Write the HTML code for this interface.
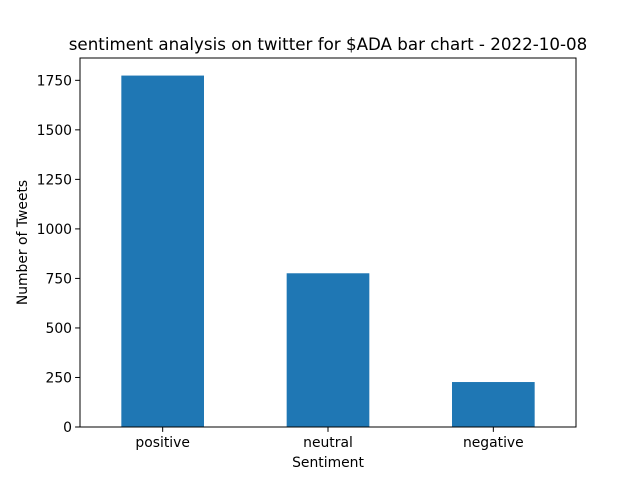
<!DOCTYPE html>
<html><head><meta charset="utf-8"><style>
body{margin:0;background:#fff;}
svg text{font-family:"DejaVu Sans","Liberation Sans",sans-serif;fill:#000;}
</style></head><body>
<svg id="chart" width="640" height="480" viewBox="0 0 640 480" xmlns="http://www.w3.org/2000/svg">
<rect width="640" height="480" fill="#fff"/>
<text x="328" y="50" font-size="16.7" text-anchor="middle">sentiment analysis on twitter for $ADA bar chart - 2022-10-08</text>
<g id="bars"></g>
<g id="yaxis"></g>
<g id="xaxis"></g>
<rect x="80" y="58" width="496" height="369" fill="none" stroke="#000" stroke-width="1"/>
<text x="328" y="467" font-size="13.9" text-anchor="middle">Sentiment</text>
<text transform="translate(27,242.5) rotate(-90)" font-size="13.9" text-anchor="middle">Number of Tweets</text>
</svg>
<script>
const categories=["positive","neutral","negative"];
const counts=[1774,776,227];
const yTicks=[0,250,500,750,1000,1250,1500,1750];
const NS="http://www.w3.org/2000/svg";
const L=80,R=576,T=58,B=427;
const yMax=Math.max(...counts)*1.05;
const y=v=>B-(v/yMax)*(B-T);
const x=i=>L+(i+0.5)/categories.length*(R-L);
const unit=(R-L)/categories.length;
function mk(tag,attrs,parent){const e=document.createElementNS(NS,tag);for(const k in attrs)e.setAttribute(k,attrs[k]);parent.appendChild(e);return e;}
const bars=document.getElementById('bars'),ya=document.getElementById('yaxis'),xa=document.getElementById('xaxis');
counts.forEach((v,i)=>{
 const r=mk('rect',{x:x(i)-unit*0.25,y:y(v),width:unit*0.5,height:B-y(v),fill:'#1f77b4'},bars);
 
 
});
yTicks.forEach(t=>{
 const g=mk('g',{},ya);
 
 
 mk('line',{x1:L-4.9,x2:L,y1:y(t),y2:y(t),stroke:'#000','stroke-width':1},g);
 const tx=mk('text',{x:L-8,y:y(t)+5,'font-size':13.9,'text-anchor':'end'},g);tx.textContent=t;
});
categories.forEach((c,i)=>{
 const g=mk('g',{},xa);
 
 
 mk('line',{x1:x(i),x2:x(i),y1:B,y2:B+4.9,stroke:'#000','stroke-width':1},g);
 const tx=mk('text',{x:x(i),y:B+20,'font-size':13.9,'text-anchor':'middle'},g);tx.textContent=c;
});
</script>
</body></html>
